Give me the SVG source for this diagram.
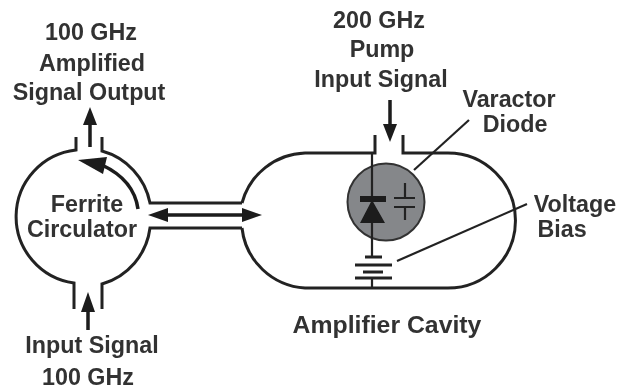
<svg xmlns="http://www.w3.org/2000/svg" width="619" height="389" viewBox="0 0 619 389">
<style>
text{font-family:"Liberation Sans",Arial,sans-serif;font-weight:700;font-size:23.300px;fill:#333;text-anchor:middle}
.l{fill:none;stroke:#222;stroke-width:3}
.t{fill:none;stroke:#222;stroke-width:2.2}
.a{fill:#1c1c1c;stroke:none}
.s{stroke:#1c1c1c;stroke-width:3.5;fill:none}
</style>
<defs><filter id="b" x="-5%" y="-5%" width="110%" height="110%"><feGaussianBlur stdDeviation="0.7"/></filter></defs>
<rect width="619" height="389" fill="#fff"/>
<g filter="url(#b)">
<g id="ferrite-circulator">
<path class="l" d="M76 137V150A67 67 0 0 0 74 283V309M102 137V151A67 67 0 0 1 150 203H242M102 309V284A67 67 0 0 0 150 228H242"/>
<text x="87" y="212">Ferrite</text>
<text x="82" y="237">Circulator</text>
</g>
<g id="amplifier-cavity">
<path class="l" d="M242 203A67.500 67.500 0 0 1 305 153H375V135M403 135V153H448A67.500 67.500 0 0 1 448 288H305A67.500 67.500 0 0 1 242 228"/>
<text x="387" y="333" style="font-size:24.800px">Amplifier Cavity</text>
</g>
<g id="varactor-diode">
<circle cx="386" cy="202" r="38.500" fill="#85878a" stroke="#333" stroke-width="2"/>
<path class="t" d="M372 153V257M405 183V198M394 198H415M394 207H415M405 207V220"/>
<path class="a" d="M360 196H386V202H360ZM372 200L385 223H360Z"/>
<path class="t" d="M414 170L469 120"/>
<text x="509" y="107">Varactor</text>
<text x="515" y="132">Diode</text>
</g>
<g id="voltage-bias">
<path class="l" d="M365 257H382M355 265H392M363 272H383M355 278H392"/>
<path class="t" d="M372 278V288M397 261L527 204"/>
<text x="575" y="212">Voltage</text>
<text x="562" y="237">Bias</text>
</g>
<g id="labels">
<text x="91" y="40">100 GHz</text>
<text x="92" y="71">Amplified</text>
<text x="89" y="100">Signal Output</text>
<text x="379" y="28">200 GHz</text>
<text x="382" y="57">Pump</text>
<text x="381" y="87">Input Signal</text>
<text x="92" y="353">Input Signal</text>
<text x="88" y="385">100 GHz</text>
</g>
<g id="connectors">
<path class="s" d="M90 147V120M88 330V308M390 100V128M138 209Q134 180 102 165M160 215H250"/>
<path class="a" d="M90 107L97 125H83ZM88 292L95 312H81ZM390 142L383 124H397ZM78 160L107 157L103 174ZM148 215L168 208V222ZM262 215L242 208V222Z"/>
</g>
</g>
</svg>
